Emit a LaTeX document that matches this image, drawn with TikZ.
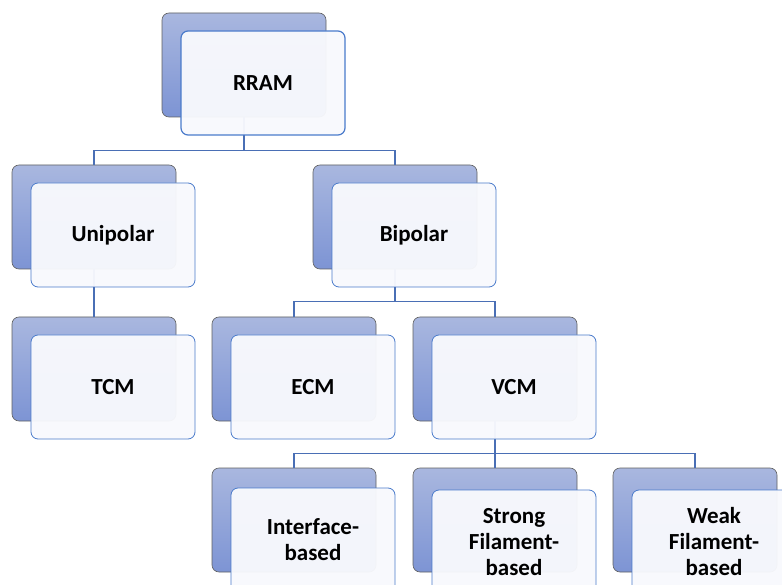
\documentclass[tikz,border=0pt]{standalone}
\usepackage{fontspec}
\setmainfont{Carlito}
\definecolor{azulclaro}{HTML}{A9B7DF}
\definecolor{azuloscuro}{HTML}{7D94D4}
\definecolor{azulborde}{HTML}{4A7BCB}
\definecolor{azullinea}{HTML}{4A6FB5}
\definecolor{cajaclara}{HTML}{F8F9FD}
\begin{document}
\begin{tikzpicture}[x=1pt,y=-1pt,
  fondo/.style={draw=gray!75!black,rounded corners=7pt,minimum width=164pt,minimum height=104pt,
    top color=azulclaro,bottom color=azuloscuro,line width=0.6pt},
  caja/.style={draw=azulborde,rounded corners=7pt,minimum width=164pt,minimum height=104pt,
    fill=cajaclara,fill opacity=0.96,text opacity=1,line width=0.8pt,align=center,text width=140pt,
    font=\fontsize{23}{26}\selectfont\bfseries},
  linea/.style={azullinea,line width=1.1pt}]
\clip (0,0) rectangle (782,585);
% Primero las cajas de atras
\foreach \n/\x/\y in {rram/244/65,uni/94/217,bip/395/217,tcm/94/369,ecm/294/369,vcm/495/369,
    inter/294/520,fuerte/495/520,debil/695/520}
  \node[fondo] (\n f) at (\x,\y) {};
% Las lineas van de caja a caja, bajando y luego en horizontal
\draw[linea] (rramf.south) -- ++(0,33) -| (unif.north);
\draw[linea] (rramf.south) -- ++(0,33) -| (bipf.north);
\draw[linea] (unif.south) -- (tcmf.north);
\draw[linea] (bipf.south) -- ++(0,32) -| (ecmf.north);
\draw[linea] (bipf.south) -- ++(0,32) -| (vcmf.north);
\draw[linea] (vcmf.south) -- ++(0,32) -| (interf.north);
\draw[linea] (vcmf.south) -- (fuertef.north);
\draw[linea] (vcmf.south) -- ++(0,32) -| (debilf.north);
% Cajas de delante con el texto
\node[caja,line width=1.2pt] (rram) at (263,83) {RRAM};
\foreach \n/\x/\y/\t in {uni/113/235/Unipolar,bip/414/235/Bipolar,tcm/113/387/TCM,ecm/313/387/ECM,
    vcm/514/387/VCM,inter/313/540/Interface-\\based,fuerte/514/542/Strong\\Filament-\\based,
    debil/714/542/Weak\\Filament-\\based}
  \node[caja] (\n) at (\x,\y) {\t};
\end{tikzpicture}
\end{document}
